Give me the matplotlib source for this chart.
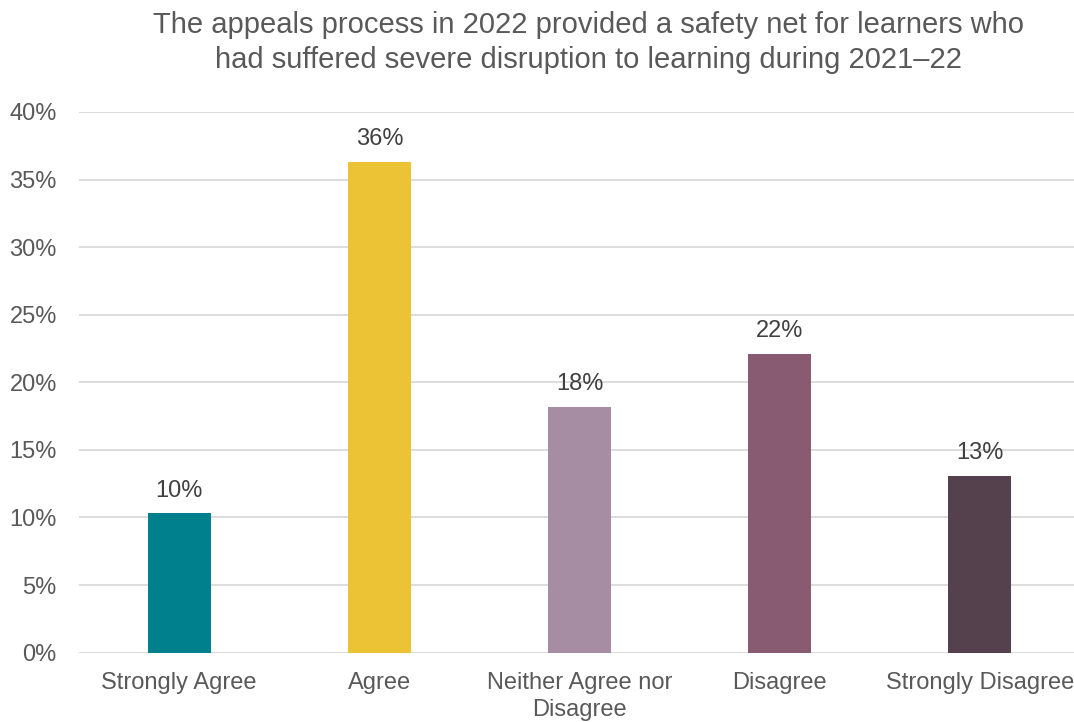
import matplotlib.pyplot as plt
from matplotlib.ticker import PercentFormatter

plt.rcParams['font.family'] = ['Liberation Sans', 'DejaVu Sans']

# survey responses (share of respondents)
categories = ['Strongly Agree', 'Agree', 'Neither Agree nor\nDisagree',
              'Disagree', 'Strongly Disagree']
shares = [0.103, 0.363, 0.182, 0.221, 0.131]
colours = ['#007F8C', '#EBC334', '#A78DA4', '#885B73', '#54414D']

title = ('The appeals process in 2022 provided a safety net for learners who\n'
         'had suffered severe disruption to learning during 2021\u201322')

grey = '#595959'

fig = plt.figure(figsize=(10.74, 7.22), dpi=100)
ax = fig.add_axes([0.0736, 0.096, 0.932, 0.749])

x = range(len(categories))
bars = ax.bar(x, shares, width=0.315, color=colours, zorder=3)

for b, v in zip(bars, shares):
    ax.annotate(f'{v:.0%}', (b.get_x() + b.get_width() / 2, v),
                xytext=(0, 12), textcoords='offset points',
                ha='center', va='baseline', fontsize=17, color='#404040')

ax.set_xlim(-0.5, len(categories) - 0.5)
ax.set_ylim(0, 0.40)
ax.set_yticks([i * 0.05 for i in range(9)])
ax.yaxis.set_major_formatter(PercentFormatter(1.0, decimals=0))
ax.set_xticks(list(x))
ax.set_xticklabels(categories, linespacing=1.3)

ax.grid(axis='y', color='#D9D9D9', linewidth=1.3, zorder=0)
for s in ax.spines.values():
    s.set_visible(False)
ax.tick_params(axis='both', length=0, labelsize=17, labelcolor=grey)
ax.tick_params(axis='x', pad=14)
ax.tick_params(axis='y', pad=16)

fig.text(0.548, 0.985, title, ha='center', va='top', fontsize=21,
         color=grey, linespacing=1.32)

fig.savefig('out.png', dpi=100)
